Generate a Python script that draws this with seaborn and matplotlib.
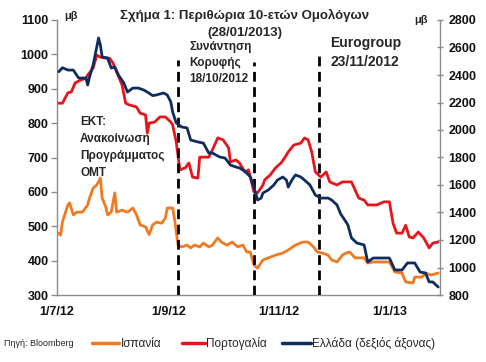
import matplotlib
matplotlib.use("Agg")
import matplotlib.pyplot as plt
import seaborn as sns
import pandas as pd
from matplotlib.lines import Line2D

# ---------------- data (basis points) ----------------
spain_dates = [
    "2012-07-02", "2012-07-03", "2012-07-04", "2012-07-07", "2012-07-08", "2012-07-10", "2012-07-12",
    "2012-07-15", "2012-07-18", "2012-07-19", "2012-07-21", "2012-07-23", "2012-07-25", "2012-07-26",
    "2012-07-28", "2012-07-29", "2012-07-31",
    "2012-08-02", "2012-08-03", "2012-08-06", "2012-08-09", "2012-08-12", "2012-08-14", "2012-08-16",
    "2012-08-19", "2012-08-21", "2012-08-23", "2012-08-25", "2012-08-28", "2012-08-30", "2012-08-31",
    "2012-09-03", "2012-09-04", "2012-09-06", "2012-09-08", "2012-09-11", "2012-09-13", "2012-09-15",
    "2012-09-18", "2012-09-20", "2012-09-23", "2012-09-25", "2012-09-28", "2012-09-30",
    "2012-10-03", "2012-10-06", "2012-10-09", "2012-10-12", "2012-10-14", "2012-10-16", "2012-10-18",
    "2012-10-20", "2012-10-23", "2012-10-26", "2012-10-30",
    "2012-11-03", "2012-11-06", "2012-11-10", "2012-11-14", "2012-11-17", "2012-11-20", "2012-11-22",
    "2012-11-25", "2012-11-28", "2012-11-30",
    "2012-12-03", "2012-12-06", "2012-12-08", "2012-12-10", "2012-12-13", "2012-12-18", "2012-12-20",
    "2012-12-23", "2012-12-29",
    "2013-01-01", "2013-01-04", "2013-01-08", "2013-01-10", "2013-01-14", "2013-01-15", "2013-01-19",
    "2013-01-21", "2013-01-24", "2013-01-28",
]
spain_bp = [
    480, 474, 512, 562, 568, 533, 541, 541, 562, 582, 611, 620, 640, 582, 556, 533, 541,
    597, 541, 547, 541, 553, 533, 504, 498, 476, 504, 512, 509, 524, 553,
    553, 524, 445, 440, 445, 437, 445, 440, 451, 440, 445, 466, 454,
    445, 454, 440, 445, 425, 425, 387, 378, 402, 408, 416,
    422, 431, 445, 454, 454, 440, 425, 422, 416, 402,
    396, 416, 422, 425, 408, 408, 393, 396, 396,
    396, 367, 364, 338, 335, 352, 352, 364, 358, 364,
]

portugal_dates = [
    "2012-07-02", "2012-07-04", "2012-07-07", "2012-07-09", "2012-07-11", "2012-07-14", "2012-07-17",
    "2012-07-18", "2012-07-21", "2012-07-23", "2012-07-25", "2012-07-28", "2012-07-30",
    "2012-08-01", "2012-08-03", "2012-08-06", "2012-08-08", "2012-08-10", "2012-08-14", "2012-08-16",
    "2012-08-19", "2012-08-20", "2012-08-21", "2012-08-24", "2012-08-27", "2012-08-30",
    "2012-09-02", "2012-09-03", "2012-09-05", "2012-09-07", "2012-09-10", "2012-09-12", "2012-09-14",
    "2012-09-17", "2012-09-18", "2012-09-23", "2012-09-25", "2012-09-28",
    "2012-10-01", "2012-10-04", "2012-10-05", "2012-10-08", "2012-10-10", "2012-10-13", "2012-10-15",
    "2012-10-18", "2012-10-20", "2012-10-23", "2012-10-24", "2012-10-27", "2012-10-30",
    "2012-11-02", "2012-11-04", "2012-11-06", "2012-11-09", "2012-11-13", "2012-11-15", "2012-11-17",
    "2012-11-19", "2012-11-21", "2012-11-24", "2012-11-27", "2012-11-29",
    "2012-12-03", "2012-12-06", "2012-12-11", "2012-12-15", "2012-12-18", "2012-12-20", "2012-12-25",
    "2012-12-29",
    "2013-01-01", "2013-01-03", "2013-01-05", "2013-01-08", "2013-01-10", "2013-01-12", "2013-01-14",
    "2013-01-17", "2013-01-20", "2013-01-23", "2013-01-25", "2013-01-28",
]
portugal_bp = [
    858, 858, 888, 891, 917, 925, 931, 940, 960, 998, 992, 989, 989,
    975, 949, 911, 858, 853, 847, 829, 824, 771, 800, 803, 818, 818,
    803, 795, 745, 664, 670, 684, 643, 640, 701, 701, 722, 757,
    751, 728, 687, 693, 684, 658, 664, 600, 597, 620, 635, 649, 670,
    684, 699, 716, 736, 742, 757, 751, 716, 658, 643, 658, 629,
    620, 629, 629, 582, 576, 562, 562, 571,
    571, 509, 480, 480, 503, 469, 466, 483, 466, 437, 451, 454,
]

greece_dates = [
    "2012-07-02", "2012-07-04", "2012-07-07", "2012-07-10", "2012-07-13", "2012-07-17", "2012-07-18",
    "2012-07-19", "2012-07-21", "2012-07-24", "2012-07-25", "2012-07-26", "2012-07-29", "2012-07-31",
    "2012-08-02", "2012-08-04", "2012-08-07", "2012-08-09", "2012-08-12", "2012-08-15", "2012-08-18",
    "2012-08-20", "2012-08-23", "2012-08-25", "2012-08-29", "2012-08-31",
    "2012-09-02", "2012-09-03", "2012-09-05", "2012-09-08", "2012-09-11", "2012-09-13", "2012-09-17",
    "2012-09-20", "2012-09-23", "2012-09-25", "2012-09-29",
    "2012-10-02", "2012-10-05", "2012-10-08", "2012-10-10", "2012-10-13", "2012-10-16", "2012-10-18",
    "2012-10-20", "2012-10-22", "2012-10-23", "2012-10-26", "2012-10-29", "2012-10-31",
    "2012-11-03", "2012-11-05", "2012-11-06", "2012-11-08", "2012-11-10", "2012-11-13", "2012-11-15",
    "2012-11-18", "2012-11-21", "2012-11-24", "2012-11-28", "2012-11-30",
    "2012-12-03", "2012-12-05", "2012-12-08", "2012-12-09", "2012-12-11", "2012-12-14", "2012-12-18",
    "2012-12-20", "2012-12-23", "2012-12-28",
    "2013-01-01", "2013-01-04", "2013-01-08", "2013-01-11", "2013-01-15", "2013-01-18", "2013-01-21",
    "2013-01-23", "2013-01-25", "2013-01-28",
]
greece_bp = [
    2424, 2453, 2436, 2436, 2378, 2378, 2327, 2385, 2473, 2669, 2618, 2531, 2524, 2451,
    2458, 2400, 2342, 2276, 2305, 2305, 2291, 2276, 2250, 2255, 2269, 2255,
    2204, 2131, 2051, 2022, 2015, 1927, 1913, 1905, 1833, 1833, 1804,
    1796, 1745, 1731, 1724, 1700, 1660, 1585, 1491, 1505, 1542, 1564, 1600, 1636,
    1658, 1636, 1585, 1636, 1673, 1658, 1636, 1600, 1527, 1505, 1505, 1491,
    1455, 1390, 1331, 1309, 1215, 1178, 1164, 1040, 1069, 1069,
    1069, 982, 982, 1033, 1033, 967, 960, 895, 895, 858,
]

series_names = ["Ισπανία", "Πορτογαλία", "Ελλάδα (δεξιός άξονας)"]
series_colors = ["#F07A22", "#E8141C", "#0E2D5E"]

x_ticks = ["2012-07-01", "2012-09-01", "2012-11-01", "2013-01-01"]
x_tick_labels = ["1/7/12", "1/9/12", "1/11/12", "1/1/13"]
left_ticks = [300, 400, 500, 600, 700, 800, 900, 1000, 1100]
right_ticks = [800, 1000, 1200, 1400, 1600, 1800, 2000, 2200, 2400, 2600, 2800]

event_dates = ["2012-09-06", "2012-10-18", "2012-11-23"]

# ---------------- figure ----------------
sns.set_style("white")
plt.rcParams["font.family"] = ["Liberation Sans", "DejaVu Sans"]

fig = plt.figure(figsize=(4.86, 3.62), dpi=100)
W, H = 486, 362
ax = fig.add_axes([57 / W, 1 - 295 / H, (440 - 57) / W, (295 - 20) / H])
ax2 = ax.twinx()

df_es = pd.DataFrame({"date": pd.to_datetime(spain_dates), "bp": spain_bp})
df_pt = pd.DataFrame({"date": pd.to_datetime(portugal_dates), "bp": portugal_bp})
df_gr = pd.DataFrame({"date": pd.to_datetime(greece_dates), "bp": greece_bp})

lw = 2.0
sns.lineplot(data=df_es, x="date", y="bp", ax=ax, color=series_colors[0], lw=lw, zorder=3)
sns.lineplot(data=df_pt, x="date", y="bp", ax=ax, color=series_colors[1], lw=lw, zorder=3)
sns.lineplot(data=df_gr, x="date", y="bp", ax=ax2, color=series_colors[2], lw=lw, zorder=3)

ax.set_ylim(300, 1100)
ax2.set_ylim(800, 2800)
ax.set_xlim(pd.Timestamp("2012-07-01"), pd.Timestamp("2013-01-29"))
ax.set_yticks(left_ticks)
ax2.set_yticks(right_ticks)
ax.set_xticks(pd.to_datetime(x_ticks))
ax.set_xticklabels(x_tick_labels)
ax.set_xlabel("")
ax.set_ylabel("")
ax2.set_ylabel("")

axis_col = "#8C8C8C"
for a in (ax, ax2):
    for s in a.spines.values():
        s.set_visible(False)
ax.spines["left"].set_visible(True)
ax.spines["bottom"].set_visible(True)
ax2.spines["right"].set_visible(True)
for s in (ax.spines["left"], ax.spines["bottom"], ax2.spines["right"]):
    s.set_color(axis_col)
    s.set_linewidth(1.0)

ax.tick_params(axis="y", which="both", length=4, width=1, color=axis_col, direction="out",
               pad=2, labelsize=9)
ax2.tick_params(axis="y", which="both", length=4, width=1, color=axis_col, direction="inout",
                pad=4, labelsize=9)
ax.tick_params(axis="x", length=4, width=1, color=axis_col, direction="inout", pad=6, labelsize=9)
for lab in ax.get_yticklabels() + ax2.get_yticklabels() + ax.get_xticklabels():
    lab.set_fontweight("bold")
    lab.set_color("#111111")

# event lines
ymax_fracs = [0.855, 0.848, 0.873]
for d, yf in zip(event_dates, ymax_fracs):
    ax.axvline(pd.Timestamp(d), ymin=0, ymax=yf, color="black", lw=2.0,
               linestyle=(0, (3.5, 2.0)), zorder=4)

def fx(px):
    return px / W

def fy(py):
    return 1 - py / H

# titles
fig.text(fx(245), fy(15), "Σχήμα 1: Περιθώρια 10-ετών Ομολόγων", ha="center", va="center",
         fontsize=9.5, fontweight="bold")
fig.text(fx(245), fy(33), "(28/01/2013)", ha="center", va="center", fontsize=9.5, fontweight="bold")
fig.text(fx(71), fy(16), "μβ", ha="center", va="center", fontsize=8, fontweight="bold")
fig.text(fx(421), fy(20), "μβ", ha="center", va="center", fontsize=8, fontweight="bold")

# annotations
ann_kw = dict(ha="left", va="center", fontsize=8.5, fontweight="bold")
for i, t in enumerate(["ΕΚΤ:", "Ανακοίνωση", "Προγράμματος", "ΟΜΤ"]):
    fig.text(fx(80), fy(122 + i * 17), t, **ann_kw)
for i, t in enumerate(["Συνάντηση", "Κορυφής", "18/10/2012"]):
    fig.text(fx(189), fy(47 + i * 16), t, **ann_kw)
for i, t in enumerate(["Eurogroup", "23/11/2012"]):
    fig.text(fx(330), fy(43 + i * 19), t, ha="left", va="center", fontsize=10, fontweight="bold")

# source + legend (manual layout)
fig.text(fx(4), fy(343), "Πηγή: Bloomberg", ha="left", va="center", fontsize=6.5)
leg_line_x = [(92, 119), (182, 205), (282, 311)]
leg_text_x = [121, 206, 312]
for (x0, x1), tx, name, col in zip(leg_line_x, leg_text_x, series_names, series_colors):
    fig.add_artist(Line2D([fx(x0), fx(x1)], [fy(343), fy(343)], color=col, lw=2.5,
                          transform=fig.transFigure))
    fig.text(fx(tx), fy(344), name, ha="left", va="center", fontsize=8.5)

fig.savefig("out.png", dpi=100)
